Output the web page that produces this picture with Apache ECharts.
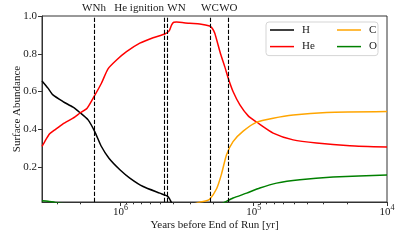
<!DOCTYPE html>
<html><head><meta charset="utf-8">
<script src="https://cdn.jsdelivr.net/npm/echarts@6/dist/echarts.min.js"></script>
<style>html,body{margin:0;padding:0;background:#fff}#c{width:407px;height:244px}</style>
</head><body><div id="c"></div>
<script>
// ---- data ----
const hYears  = [3.88e6, 3.5e6, 3.21e6, 2.7e6, 2.27e6, 2.02e6, 1.75e6, 1.56e6, 1.39e6, 1.22e6, 1.01e6, 8.51e5, 6.76e5, 5.07e5, 4.65e5, 4.42e5, 4.27e5, 4.12e5, 4.0e5, 1e4];
const hValues = [0.656, 0.618, 0.582, 0.547, 0.517, 0.489, 0.45, 0.388, 0.309, 0.247, 0.186, 0.142, 0.097, 0.062, 0.052, 0.045, 0.03, 0.008, 0, 0];

const heYears  = [3.88e6, 3.70e6, 3.40e6, 3.11e6, 2.70e6, 2.27e6, 2.02e6, 1.78e6, 1.58e6, 1.39e6, 1.24e6, 1.07e6, 9.01e5, 7.16e5, 5.69e5, 4.65e5, 4.31e5, 4.14e5, 3.98e5, 3.80e5, 3.02e5, 2.54e5, 2.14e5, 2.05e5, 1.96e5, 1.78e5, 1.65e5, 1.54e5, 1.43e5, 1.27e5, 1.10e5, 9.42e4, 7.15e4, 5.06e4, 3.38e4, 1.90e4, 1e4];
const heValues = [0.309, 0.335, 0.376, 0.397, 0.429, 0.459, 0.485, 0.512, 0.573, 0.644, 0.72, 0.767, 0.811, 0.856, 0.885, 0.905, 0.921, 0.952, 0.967, 0.968, 0.961, 0.958, 0.947, 0.935, 0.909, 0.803, 0.732, 0.662, 0.600, 0.529, 0.471, 0.436, 0.38, 0.344, 0.327, 0.313, 0.306];

const cYears  = [3.88e6, 2.9e5, 2.55e5, 2.3e5, 2.14e5, 1.90e5, 1.75e5, 1.60e5, 1.43e5, 1.20e5, 9.5e4, 7.15e4, 5.06e4, 2.84e4, 1e4];
const cValues = [0, 0.003, 0.014, 0.02, 0.03, 0.085, 0.16, 0.265, 0.335, 0.39, 0.438, 0.459, 0.476, 0.489, 0.494];

const oYears  = [3.88e6, 3.5e6, 3.1e6, 2.5e6, 1.75e5, 1.65e5, 1.43e5, 1.13e5, 9.0e4, 6.74e4, 4.51e4, 2.54e4, 1e4];
const oValues = [0.022, 0.019, 0.013, 0.005, 0.005, 0.014, 0.036, 0.062, 0.089, 0.115, 0.133, 0.147, 0.158];

const eventNames = ['WNh', 'He ignition', 'WN', 'WC', 'WO'];
const eventYears = [1.58e6, 4.71e5, 4.45e5, 2.13e5, 1.55e5];

const xMajorTicks = [1e6, 1e5, 1e4];
const xMinorTicks = [2e4, 3e4, 4e4, 5e4, 6e4, 7e4, 8e4, 9e4, 2e5, 3e5, 4e5, 5e5, 6e5, 7e5, 8e5, 9e5, 2e6, 3e6];
const yTicks = [0.2, 0.4, 0.6, 0.8, 1.0];

const xMin = 1e4, xMax = 3.88e6, yMin = 0.015, yMax = 1.0;

// ---- chart ----
const FONT = "'Liberation Serif', 'Times New Roman', serif";
const TXT = '#1a1a1a';
const AX = '#333';
const zip = (a, b) => a.map((v, i) => [v, b[i]]);
const alignFor = { 'He ignition': 'right', 'WN': 'left' };

const chart = echarts.init(document.getElementById('c'), null, { renderer: 'canvas' });
const lineSeries = (name, years, vals, color, extra) => Object.assign({
  name, type: 'line', data: zip(years, vals), symbol: 'none', showSymbol: false,
  smooth: 0.2, clip: true,
  lineStyle: { color, width: 1.5 }, itemStyle: { color }
}, extra || {});

const legendCommon = {
  orient: 'vertical', icon: 'rect', itemWidth: 24, itemHeight: 1.5, itemGap: 4.6,
  textStyle: { fontFamily: FONT, fontSize: 11, color: TXT, lineHeight: 12, padding: [0, 0, 0, 3] }
};

chart.setOption({
  animation: false,
  textStyle: { fontFamily: FONT },
  grid: { left: 42, right: 20, top: 16, bottom: 42, show: true, borderColor: AX, borderWidth: 1, containLabel: false, outerBoundsMode: 'none' },
  legend: [
    Object.assign({}, legendCommon, {
      data: ['H', 'He'], left: 266, top: 22,
      padding: [2, 56, 3, 4],
      textStyle: Object.assign({}, legendCommon.textStyle, { width: 20 }),
      backgroundColor: 'rgba(255,255,255,0.8)', borderColor: '#d5d5d5', borderWidth: 1, borderRadius: 3
    }),
    Object.assign({}, legendCommon, {
      data: ['C', 'O'], left: 337, top: 24, padding: 0
    })
  ],
  xAxis: [
    {
      type: 'log', logBase: 10, min: xMin, max: xMax, inverse: true, position: 'bottom',
      name: 'Years before End of Run [yr]', nameLocation: 'middle', nameGap: 18, nameMoveOverlap: false,
      nameTextStyle: { fontFamily: FONT, fontSize: 11, color: TXT },
      axisLine: { show: true, lineStyle: { color: AX, width: 1 } },
      axisTick: { show: true, customValues: xMajorTicks, length: 4, lineStyle: { color: AX } },
      axisLabel: {
        customValues: xMajorTicks, margin: 4, color: TXT,
        formatter: v => '{b|10}{e|' + Math.round(Math.log10(v)) + '}',
        rich: {
          b: { fontFamily: FONT, fontSize: 11, color: TXT, lineHeight: 12, verticalAlign: 'bottom' },
          e: { fontFamily: FONT, fontSize: 8, color: TXT, lineHeight: 8, padding: [0, 0, 6, 0], verticalAlign: 'bottom' }
        }
      },
      splitLine: { show: false }
    },
    {
      type: 'log', logBase: 10, min: xMin, max: xMax, inverse: true, position: 'bottom', gridIndex: 0,
      axisLine: { show: false }, axisLabel: { show: false }, splitLine: { show: false },
      axisTick: { show: true, customValues: xMinorTicks, length: 2.3, lineStyle: { color: AX } }
    }
  ],
  yAxis: {
    type: 'value', min: yMin, max: yMax,
    name: 'Surface Abundance', nameLocation: 'middle', nameGap: 19, nameMoveOverlap: false,
    nameTextStyle: { fontFamily: FONT, fontSize: 11, color: TXT },
    axisLine: { show: true, lineStyle: { color: AX, width: 1 } },
    axisTick: { show: true, customValues: yTicks, length: 4, lineStyle: { color: AX } },
    axisLabel: { customValues: yTicks, margin: 5, fontFamily: FONT, fontSize: 11, color: TXT, formatter: v => v.toFixed(1) },
    splitLine: { show: false }
  },
  series: [
    lineSeries('H', hYears, hValues, '#000000', {
      markLine: {
        silent: true, symbol: ['none', 'none'], animation: false,
        lineStyle: { color: '#000', type: [4.2, 1.8], width: 1.1 },
        label: { show: true, position: 'end', distance: 2, fontFamily: FONT, fontSize: 11, color: TXT },
        data: eventYears.map((v, i) => ({
          xAxis: v,
          label: { formatter: eventNames[i], align: alignFor[eventNames[i]] || 'center' }
        }))
      }
    }),
    lineSeries('He', heYears, heValues, '#ff0000'),
    lineSeries('C', cYears, cValues, '#ffa500'),
    lineSeries('O', oYears, oValues, '#008000')
  ]
});
</script>
</body></html>
